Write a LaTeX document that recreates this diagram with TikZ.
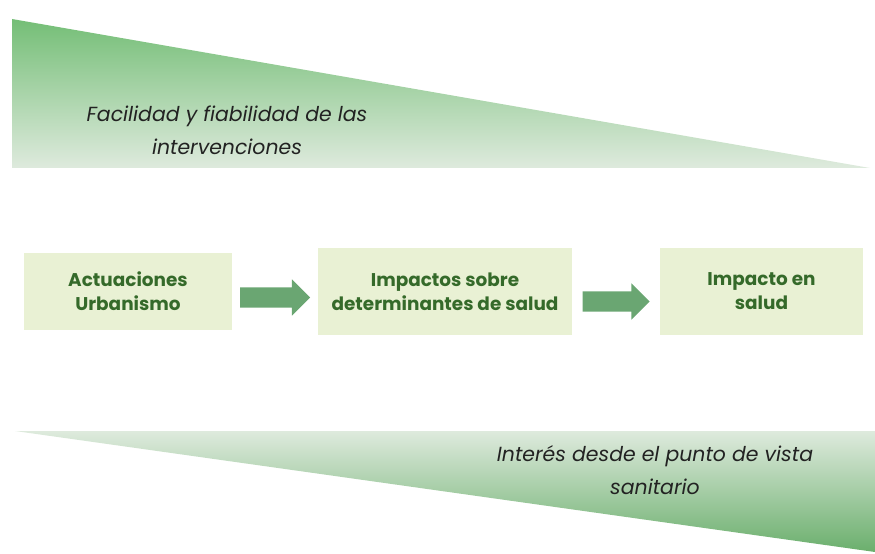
\documentclass[tikz,border=0pt]{standalone}
\usepackage{fontspec}
\setmainfont{Poppins}
\usetikzlibrary{shapes.arrows,calc}
\definecolor{wedgedark}{HTML}{74BE76}
\definecolor{wedgelight}{HTML}{DEEADD}
\definecolor{boxfill}{HTML}{E9F1D4}
\definecolor{boxtext}{HTML}{356A2A}
\definecolor{arrowgreen}{HTML}{6AA672}
\definecolor{labeltext}{HTML}{222222}
\tikzset{
  stagebox/.style={fill=boxfill, draw=none, align=center, inner sep=0pt,
    font=\fontsize{18.5}{24}\selectfont\bfseries, text=boxtext},
  flowarrow/.style={single arrow, fill=arrowgreen, draw=none, inner xsep=0pt, inner ysep=10bp,
    minimum height=70bp, minimum width=36bp, single arrow head extend=8bp},
  wedgelabel/.style={align=center, font=\fontsize{20.5}{33}\selectfont\itshape, text=labeltext}
}
\begin{document}
\begin{tikzpicture}[x=1bp,y=-1bp]
\useasboundingbox (0,0) rectangle (875,554);
% top wedge
\shade[top color=wedgedark, bottom color=wedgelight] (12,19) -- (870,168) -- (12,168) -- cycle;
% bottom wedge
\shade[top color=wedgelight, bottom color=wedgedark!92!black] (15,431) -- (875,431) -- (875,552) -- cycle;
\node[wedgelabel] (top) at (227,130) {Facilidad y fiabilidad de las\\intervenciones};
\node[wedgelabel] (bot) at (655,470) {Interés desde el punto de vista\\sanitario};
% boxes
\node[stagebox, minimum width=208bp, minimum height=77bp] (a) at (128,291.5) {Actuaciones\\Urbanismo};
\node[stagebox, minimum width=254bp, minimum height=87bp] (b) at (445,291.5) {Impactos sobre\\determinantes de salud};
\node[stagebox, minimum width=203bp, minimum height=87bp] (c) at (761.5,291.5) {Impacto en\\salud};
% arrows
\node[flowarrow] (ab) at ($(a.east)!0.5!(b.west)+(-5,6)$) {};
\node[flowarrow, minimum height=67bp] (bc) at ($(b.east)!0.5!(c.west)+(-5,10)$) {};
\end{tikzpicture}
\end{document}
